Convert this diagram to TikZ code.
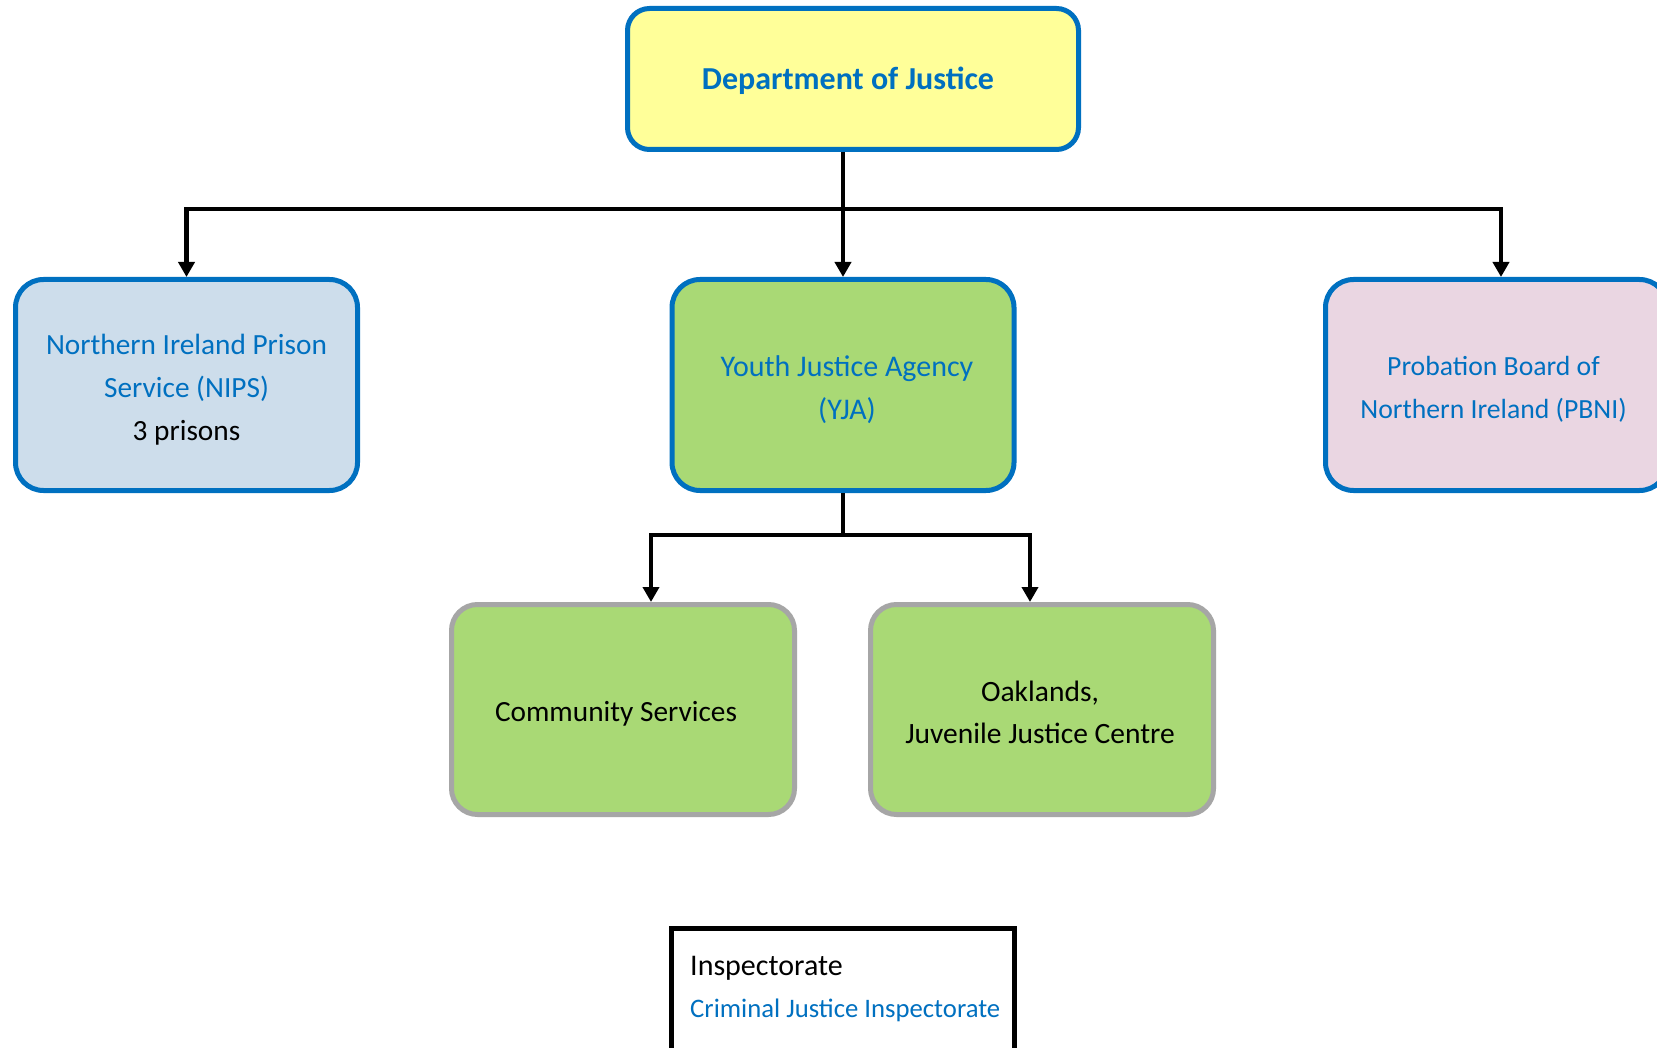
\documentclass[tikz,border=0pt]{standalone}
\usepackage{fontspec}
\setmainfont{Carlito}
\usetikzlibrary{arrows.meta}
\definecolor{mblue}{HTML}{0070C0}
\definecolor{myellow}{HTML}{FFFF99}
\definecolor{mlblue}{HTML}{CDDDEB}
\definecolor{mpink}{HTML}{EAD6E2}
\definecolor{mgreen}{HTML}{A9D975}
\definecolor{mgray}{HTML}{A6A6A6}
\tikzset{
  orgbox/.style={draw=mblue, line width=5pt, rounded corners=28pt,
    minimum width=342pt, minimum height=211pt, inner sep=0pt},
  subbox/.style={draw=mgray, fill=mgreen, line width=5pt, rounded corners=26pt,
    minimum width=343pt, minimum height=210pt, inner sep=0pt},
  boxtext/.style={align=center, inner sep=0pt},
  conn/.style={line width=4.5pt, black},
  arr/.style={conn, -{Triangle[length=15pt,width=16pt]}},
}
\begin{document}
\begin{tikzpicture}[x=1pt,y=-1pt]
\useasboundingbox (0,0) rectangle (1657,1048);
\fill[white] (0,0) rectangle (1657,1048);

\node[draw=mblue, fill=myellow, line width=5pt, rounded corners=22pt,
  minimum width=451pt, minimum height=141pt, inner sep=0pt] (doj) at (853,79) {};
\node[boxtext, font=\fontsize{32}{40}\selectfont\bfseries, text=mblue]
  (dojt) at ([xshift=-5pt,yshift=-2pt]doj.center) {Department of Justice};

\node[orgbox, fill=mlblue] (nips) at (186.5,385) {};
\node[boxtext, font=\fontsize{29.3}{43}\selectfont, text=mblue]
  (nipst) at ([yshift=-4.5pt]nips.center)
  {Northern Ireland Prison\\Service (NIPS)\\{\color{black}3 prisons}};

\node[orgbox, fill=mgreen] (yja) at (843,385) {};
\node[boxtext, font=\fontsize{30}{43}\selectfont, text=mblue]
  (yjat) at ([xshift=4pt,yshift=-4.5pt]yja.center)
  {Youth Justice Agency\\(YJA)};

\node[orgbox, fill=mpink] (pbni) at (1496.5,385) {};
\node[boxtext, font=\fontsize{27.7}{43}\selectfont, text=mblue]
  (pbnit) at ([xshift=-3pt,yshift=-4.5pt]pbni.center)
  {Probation Board of\\Northern Ireland (PBNI)};

\node[subbox] (comm) at (623,709.5) {};
\node[boxtext, font=\fontsize{29.3}{42}\selectfont]
  (commt) at ([xshift=-7pt,yshift=-4.5pt]comm.center) {Community Services};

\node[subbox] (oak) at (1042,709.5) {};
\node[boxtext, font=\fontsize{29.5}{42}\selectfont]
  (oakt) at ([xshift=-2pt,yshift=-3pt]oak.center) {Oaklands,\\Juvenile Justice Centre};

\node[draw=black, line width=5pt, minimum width=343pt, minimum height=150pt,
  anchor=north west, inner sep=0pt] (insp) at (669,926) {};
\node[anchor=base west, inner sep=0pt, font=\fontsize{30}{42}\selectfont]
  (insp1) at (690,975) {Inspectorate};
\node[anchor=base west, inner sep=0pt, font=\fontsize{26.7}{42}\selectfont, text=mblue]
  (insp2) at (690,1017) {Criminal Justice Inspectorate};

\coordinate (b1) at (843,209);
\coordinate (b2) at (843,535);
\draw[conn] (doj.south -| b1) -- (b1);
\draw[arr] (b1) -| (nips.north);
\draw[arr] (b1) -| ([xshift=4.5pt]pbni.north);
\draw[arr] (b1) -- (yja.north);

\draw[conn] (yja.south) -- (b2);
\draw[arr] (b2) -| ([xshift=28pt]comm.north);
\draw[arr] (b2) -| ([xshift=-12pt]oak.north);
\end{tikzpicture}
\end{document}
